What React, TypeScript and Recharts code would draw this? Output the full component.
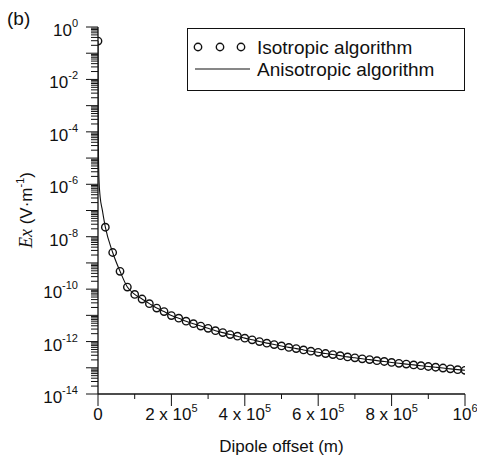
import { ComposedChart, Legend, Line, Scatter, XAxis, YAxis } from "recharts";

// dipole offset (m), one circle every 20 km
const offsets = [
  0, 20000, 40000, 60000, 80000, 100000, 120000, 140000, 160000, 180000,
  200000, 220000, 240000, 260000, 280000, 300000, 320000, 340000, 360000, 380000,
  400000, 420000, 440000, 460000, 480000, 500000, 520000, 540000, 560000, 580000,
  600000, 620000, 640000, 660000, 680000, 700000, 720000, 740000, 760000, 780000,
  800000, 820000, 840000, 860000, 880000, 900000, 920000, 940000, 960000, 980000,
  1000000
];

// Ex (V/m), isotropic algorithm
const isoEx = [
  2.9e-1, 2.3e-8, 2.5e-9, 4.8e-10, 1.2e-10, 6.3e-11, 4.2e-11, 2.8e-11, 1.9e-11, 1.4e-11,
  9.8e-12, 7.8e-12, 6.0e-12, 4.8e-12, 3.9e-12, 3.2e-12, 2.6e-12, 2.2e-12, 1.85e-12, 1.6e-12,
  1.35e-12, 1.17e-12, 1.0e-12, 8.7e-13, 7.7e-13, 6.8e-13, 6.0e-13, 5.4e-13, 4.8e-13, 4.3e-13,
  3.9e-13, 3.5e-13, 3.2e-13, 2.9e-13, 2.6e-13, 2.4e-13, 2.2e-13, 2.05e-13, 1.87e-13, 1.74e-13,
  1.6e-13, 1.48e-13, 1.38e-13, 1.29e-13, 1.2e-13, 1.12e-13, 1.05e-13, 9.8e-14, 9.1e-14, 8.5e-14,
  8.0e-14
];

// anisotropic curve close to the source (the rest follows the circles)
const anisoNearX = [0, 300, 1000, 2700, 6000, 11700];
const anisoNearEx = [2.9e-1, 3e-3, 3e-5, 1.5e-6, 3.2e-7, 1.05e-7];

const xMajor = [0, 200000, 400000, 600000, 800000, 1000000];
const xMinor = [100000, 300000, 500000, 700000, 900000];
const xLabels = ["0", "2 x 10|5", "4 x 10|5", "6 x 10|5", "8 x 10|5", "10|6"];

const yExponents = [0, -1, -2, -3, -4, -5, -6, -7, -8, -9, -10, -11, -12, -13, -14];
const yMinorSteps = [2, 3, 4, 5, 6, 7, 8, 9];

const isoData = offsets.map((x, i) => ({ x, y: isoEx[i] }));
const anisoData = [
  ...anisoNearX.map((x, i) => ({ x, y: anisoNearEx[i] })),
  ...isoData.slice(1)
];

const yTicks: number[] = [];
yExponents.forEach((k) => {
  yTicks.push(Math.pow(10, k));
  if (k > -14) yMinorSteps.forEach((m) => yTicks.push(m * Math.pow(10, k - 1)));
});
yTicks.sort((a, b) => a - b);

const xTicks = [...xMajor, ...xMinor].sort((a, b) => a - b);

const sans = "'Liberation Sans', Arial, sans-serif";
const ink = "#111";

function YTick(props: any) {
  const { x, y, payload } = props;
  const e = Math.log10(payload.value);
  const k = Math.round(e);
  const major = Math.abs(e - k) < 1e-6;
  const len = major ? 12 : 7;
  return (
    <g>
      <line x1={x - len} x2={x} y1={y} y2={y} stroke={ink} strokeWidth={1} />
      {major && k % 2 === 0 && (
        <text x={x - 20} y={y + 9} textAnchor="end" fontFamily={sans} fontSize={17} fill={ink}>
          10
          <tspan dy={-9} fontSize={11}>{k === 0 ? "0" : "-" + Math.abs(k)}</tspan>
        </text>
      )}
    </g>
  );
}

function XTick(props: any) {
  const { x, y, payload } = props;
  const idx = xMajor.indexOf(payload.value);
  const major = idx >= 0;
  const len = major ? 12 : 5;
  const parts = major ? xLabels[idx].split("|") : [];
  return (
    <g>
      <line x1={x} x2={x} y1={y} y2={y + len} stroke={ink} strokeWidth={1} />
      {major && (
        <text x={x} y={y + 26} textAnchor="middle" fontFamily={sans} fontSize={17} fill={ink}>
          {parts[0]}
          {parts[1] && <tspan dy={-8} fontSize={11}>{parts[1]}</tspan>}
        </text>
      )}
    </g>
  );
}

function CircleMark(props: any) {
  return <circle cx={props.cx} cy={props.cy} r={3.7} fill="none" stroke={ink} strokeWidth={1.4} />;
}

function LegendBox() {
  return (
    <svg width={279} height={64}>
      <rect x={0.5} y={0.5} width={277} height={62} fill="#fff" stroke={ink} strokeWidth={1} />
      {[11, 33, 54].map((cx) => (
        <circle key={cx} cx={cx} cy={19} r={3.7} fill="none" stroke={ink} strokeWidth={1.4} />
      ))}
      <text x={70} y={26} fontFamily={sans} fontSize={19} fill={ink}>Isotropic algorithm</text>
      <line x1={8} x2={63} y1={41} y2={41} stroke={ink} strokeWidth={1.2} />
      <text x={70} y={48} fontFamily={sans} fontSize={19} fill={ink}>Anisotropic algorithm</text>
    </svg>
  );
}

function YTitle() {
  return (
    <g>
      <text x={7} y={25} fontFamily={sans} fontSize={19} fill={ink}>(b)</text>
      <text
        x={32}
        y={210}
        transform="rotate(-90, 32, 210)"
        textAnchor="middle"
        fontFamily={sans}
        fontSize={17}
        fill={ink}
      >
        <tspan fontFamily="'Liberation Serif', 'Times New Roman', serif" fontStyle="italic" fontSize={18}>Ex</tspan>
        <tspan> (V·m</tspan>
        <tspan dy={-8} fontSize={11}>-1</tspan>
        <tspan dy={8}>)</tspan>
      </text>
    </g>
  );
}

function XTitle() {
  return (
    <text x={281.5} y={452} textAnchor="middle" fontFamily={sans} fontSize={17} fill={ink}>
      Dipole offset (m)
    </text>
  );
}

export default function App() {
  return (
    <div style={{ position: "absolute", left: 0, top: 0, width: 477, height: 461, background: "#fff" }}>
      <ComposedChart width={477} height={461} margin={{ top: 27, right: 12, bottom: 27, left: 38 }}>
        <XAxis
          dataKey="x"
          type="number"
          domain={[0, 1000000]}
          allowDataOverflow
          ticks={xTicks}
          interval={0}
          height={40}
          tick={<XTick />}
          tickLine={false}
          tickSize={0}
          tickMargin={0}
          axisLine={{ stroke: ink, strokeWidth: 1.3 }}
          label={{ content: () => <XTitle /> }}
        />
        <YAxis
          dataKey="y"
          type="number"
          scale="log"
          domain={[1e-14, 1]}
          allowDataOverflow
          ticks={yTicks}
          interval={0}
          width={60}
          tick={<YTick />}
          tickLine={false}
          tickSize={0}
          tickMargin={0}
          axisLine={{ stroke: ink, strokeWidth: 1.3 }}
          label={{ content: () => <YTitle /> }}
        />
        <Legend
          verticalAlign="middle"
          align="center"
          content={() => <LegendBox />}
          wrapperStyle={{ position: "absolute", left: 187, top: 28, width: 279, height: 64 }}
        />
        <Line
          data={anisoData}
          dataKey="y"
          type="monotone"
          stroke={ink}
          strokeWidth={1.1}
          dot={false}
          isAnimationActive={false}
          name="Anisotropic algorithm"
        />
        <Scatter
          data={isoData}
          dataKey="y"
          shape={<CircleMark />}
          isAnimationActive={false}
          name="Isotropic algorithm"
        />
      </ComposedChart>
    </div>
  );
}
